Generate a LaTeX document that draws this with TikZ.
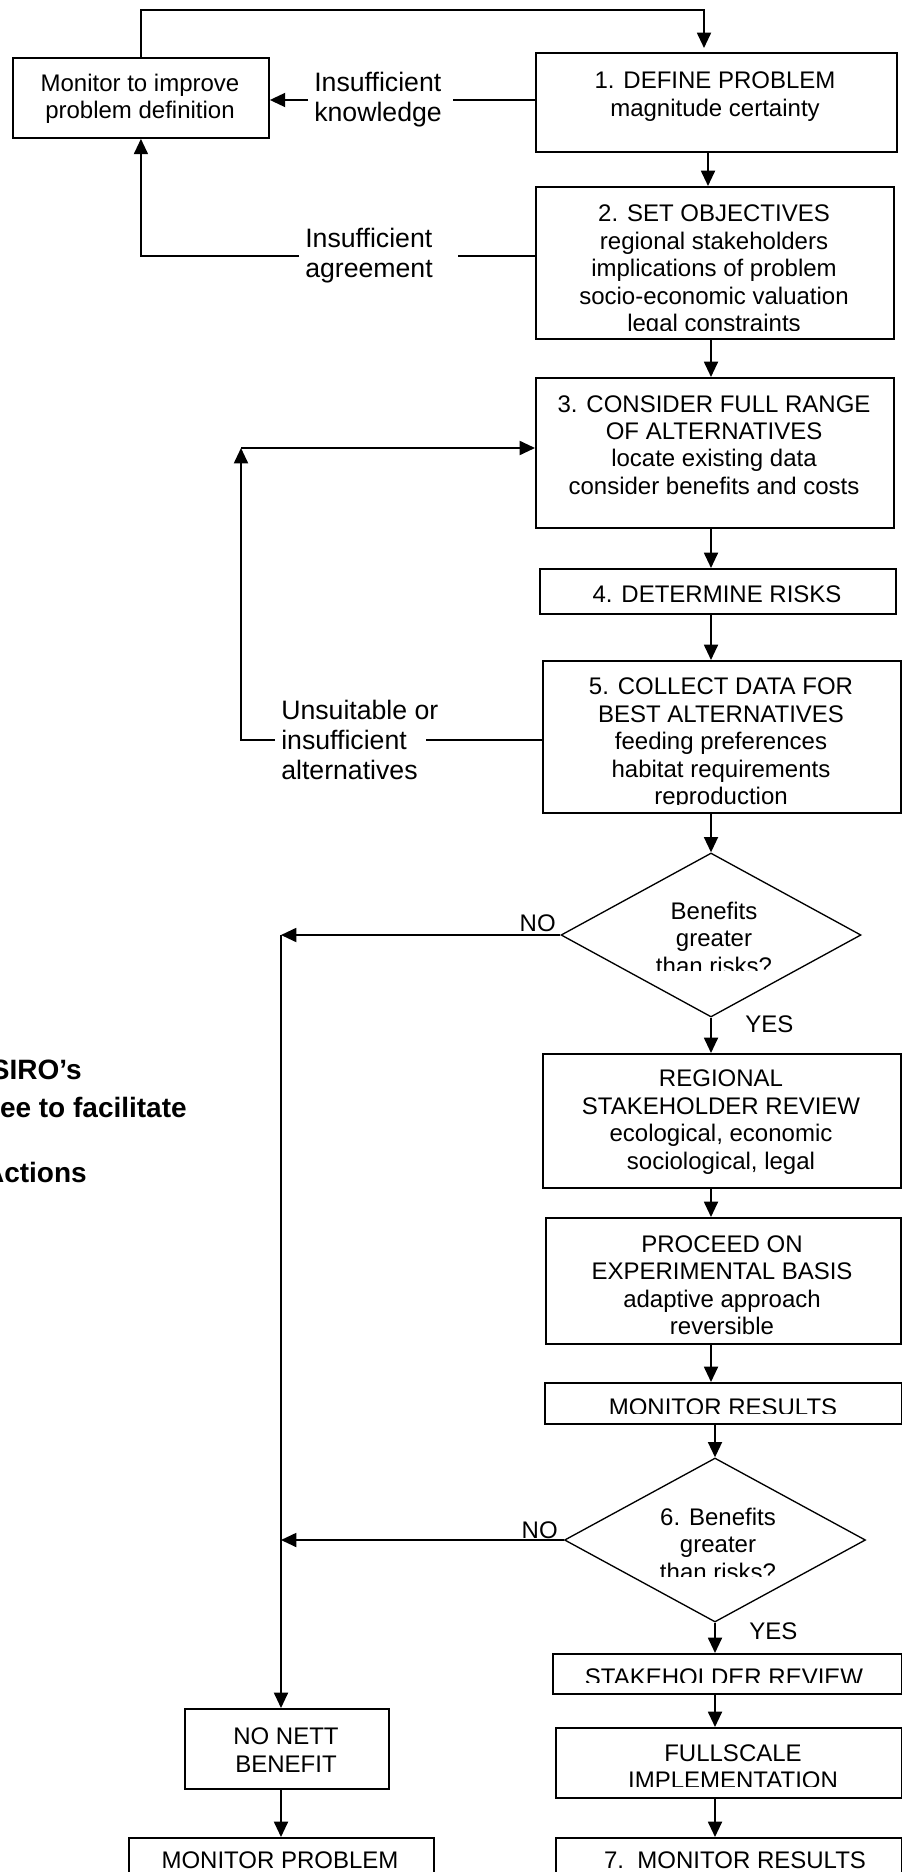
\documentclass[tikz,border=0pt]{standalone}
\usepackage{fontspec}
\setmainfont{Liberation Sans}
\usetikzlibrary{arrows.meta,shapes.geometric}
\begin{document}
\begin{tikzpicture}[x=0.75pt,y=-0.75pt,
  box/.style={draw,line width=1.4pt,inner sep=0pt,anchor=north west},
  dia/.style={draw,diamond,line width=1pt,inner sep=0pt},
  txt/.style={align=center,inner sep=0pt,font=\fontsize{18}{20.6}\selectfont},
  lab/.style={align=left,inner sep=4.5pt,anchor=west,font=\fontsize{20}{22.5}\selectfont},
  note/.style={inner sep=0pt,anchor=base east,font=\fontsize{21}{24}\selectfont\bfseries},
  yn/.style={inner sep=0pt,font=\fontsize{18}{20.6}\selectfont},
  ln/.style={line width=1.4pt},
  arr/.style={line width=1.4pt,-{Triangle[length=11.5pt,width=10.5pt]}}]
\useasboundingbox (0,0) rectangle (902,1872);
\fill[white] (0,0) rectangle (902,1872);
\clip (0,0) rectangle (902,1872);

% ---------- boxes ----------
\node[box,minimum width=192pt,minimum height=60pt] (mon) at (12,57) {};
\node[box,minimum width=270.75pt,minimum height=74.25pt] (b1) at (535,52) {};
\node[box,minimum width=268.5pt,minimum height=114pt] (b2) at (535,186) {};
\node[box,minimum width=268.5pt,minimum height=112.5pt] (b3) at (535,377) {};
\node[box,minimum width=267pt,minimum height=33.75pt] (b4) at (539,568) {};
\node[box,minimum width=268.5pt,minimum height=114pt] (b5) at (542,660) {};
\node[dia,minimum width=225pt,minimum height=123pt] (d1) at (711,935) {};
\node[box,minimum width=268.5pt,minimum height=100.5pt] (reg) at (542,1053) {};
\node[box,minimum width=266.25pt,minimum height=94.5pt] (pro) at (545,1217) {};
\node[box,minimum width=267.75pt,minimum height=30.75pt] (mr) at (544,1382) {};
\node[dia,minimum width=225.75pt,minimum height=123pt] (d2) at (715,1540) {};
\node[box,minimum width=261.75pt,minimum height=30pt] (sr) at (552,1653) {};
\node[box,minimum width=259.5pt,minimum height=52.5pt] (full) at (555,1727) {};
\node[box,minimum width=259.5pt,minimum height=47.25pt] (m7) at (555,1837) {};
\node[box,minimum width=153pt,minimum height=60pt] (nn) at (184,1708) {};
\node[box,minimum width=228.75pt,minimum height=47.25pt] (mp) at (128,1837) {};

% ---------- box texts ----------
\node[txt] (mont) at (140,99) {Monitor to improve\\problem definition};
\node[txt] (b1t) at (715,96.5) {1. DEFINE PROBLEM\\magnitude certainty};
\begin{scope}
  \clip (535,186) rectangle (893,331);
  \node[txt] (b2t) at (714,271) {2. SET OBJECTIVES\\regional stakeholders\\implications of problem\\socio-economic valuation\\legal constraints};
\end{scope}
\node[txt] (b3t) at (714,445) {3. CONSIDER FULL RANGE\\OF ALTERNATIVES\\locate existing data\\consider benefits and costs};
\node[txt] (b4t) at (717,594) {4. DETERMINE RISKS};
\begin{scope}
  \clip (542,660) rectangle (900,804);
  \node[txt] (b5t) at (721,744) {5. COLLECT DATA FOR\\BEST ALTERNATIVES\\feeding preferences\\habitat requirements\\reproduction};
\end{scope}
\begin{scope}
  \clip (600,860) rectangle (830,970);
  \node[txt] (d1t) at (714,938) {Benefits\\greater\\than risks?};
\end{scope}
\node[txt] (regt) at (721,1122) {REGIONAL\\STAKEHOLDER REVIEW\\ecological, economic\\sociological, legal};
\node[txt] (prot) at (722,1285) {PROCEED ON\\EXPERIMENTAL BASIS\\adaptive approach\\reversible};
\begin{scope}
  \clip (544,1382) rectangle (902,1413);
  \node[txt] (mrt) at (723,1407.5) {MONITOR RESULTS};
\end{scope}
\begin{scope}
  \clip (600,1465) rectangle (830,1576);
  \node[txt] (d2t) at (718,1544) {6. Benefits\\greater\\than risks?};
\end{scope}
\begin{scope}
  \clip (552,1653) rectangle (902,1682);
  \node[txt] (srt) at (724,1677.5) {STAKEHOLDER REVIEW};
\end{scope}
\begin{scope}
  \clip (555,1727) rectangle (902,1786);
  \node[txt] (fullt) at (733,1766.5) {FULLSCALE\\IMPLEMENTATION};
\end{scope}
\node[txt] (m7t) at (735,1860) {7.\ \ MONITOR RESULTS};
\node[txt] (nnt) at (286,1750) {NO NETT\\BENEFIT};
\node[txt] (mpt) at (280,1860) {MONITOR PROBLEM};

% ---------- side labels ----------
\node[lab] (kn) at (308,100) {Insufficient\\knowledge};
\node[lab] (ag) at (299,256) {Insufficient\\agreement};
\node[lab] (un) at (275,740) {Unsuitable or\\insufficient\\alternatives};
\node[yn,anchor=base east] (no1) at (556,931) {NO};
\node[yn,anchor=base west] (yes1) at (745,1032) {YES};
\node[yn,anchor=base east] (no2) at (558,1538) {NO};
\node[yn,anchor=base west] (yes2) at (749,1639) {YES};

% ---------- bold note (cut at left edge) ----------
\node[note] (n1) at (82,1079) {SIRO’s};
\node[note] (n2) at (187,1117) {ee to facilitate};
\node[note] (n3) at (87,1182) {Actions};

% ---------- helper coordinates ----------
\coordinate (top) at (0,10);
\coordinate (cT) at (704,0);
\coordinate (cA) at (708,0);
\coordinate (cB) at (711,0);
\coordinate (j1) at (281,0);
\coordinate (c3) at (241,448);

% ---------- connectors ----------
\draw[arr,shorten >=3pt] (mon.north) -- (mon.north |- top) -| (b1.north -| cT);
\draw[ln] (b1.west |- kn) -- ([xshift=4pt]kn.east);
\draw[arr] (kn.west) -- (mon.east |- kn.west);
\draw[ln] (b2.west |- ag) -- ([xshift=14pt]ag.east);
\draw[arr] (ag.west) -| (mon.south);
\draw[arr] (b1.south -| cA) -- (b2.north -| cA);
\draw[arr] (b2.south -| cB) -- (b3.north -| cB);
\draw[arr] (b3.south -| cB) -- (b4.north -| cB);
\draw[arr] (b4.south -| cB) -- (b5.north -| cB);
\draw[ln] (b5.west |- un) -- ([xshift=-14pt]un.east);
\draw[arr] (un.west) -| (c3);
\draw[arr] (c3) -- (b3.west |- c3);
\draw[arr] (b5.south -| d1.north) -- (d1.north);
\draw[arr] (d1.south) -- (reg.north -| d1.south);
\draw[arr] (reg.south -| cB) -- (pro.north -| cB);
\draw[arr] (pro.south -| cB) -- (mr.north -| cB);
\draw[arr] (mr.south -| d2.north) -- (d2.north);
\draw[arr] (d2.south) -- (sr.north -| d2.south);
\draw[arr] (sr.south -| d2.south) -- (full.north -| d2.south);
\draw[arr] (full.south -| d2.south) -- (m7.north -| d2.south);
\draw[arr] (d1.west) -- (d1.west -| j1);
\draw[arr] (d2.west) -- (d2.west -| j1);
\draw[arr] (d1.west -| j1) -- (nn.north -| j1);
\draw[arr] (nn.south -| j1) -- (mp.north -| j1);
\end{tikzpicture}
\end{document}
